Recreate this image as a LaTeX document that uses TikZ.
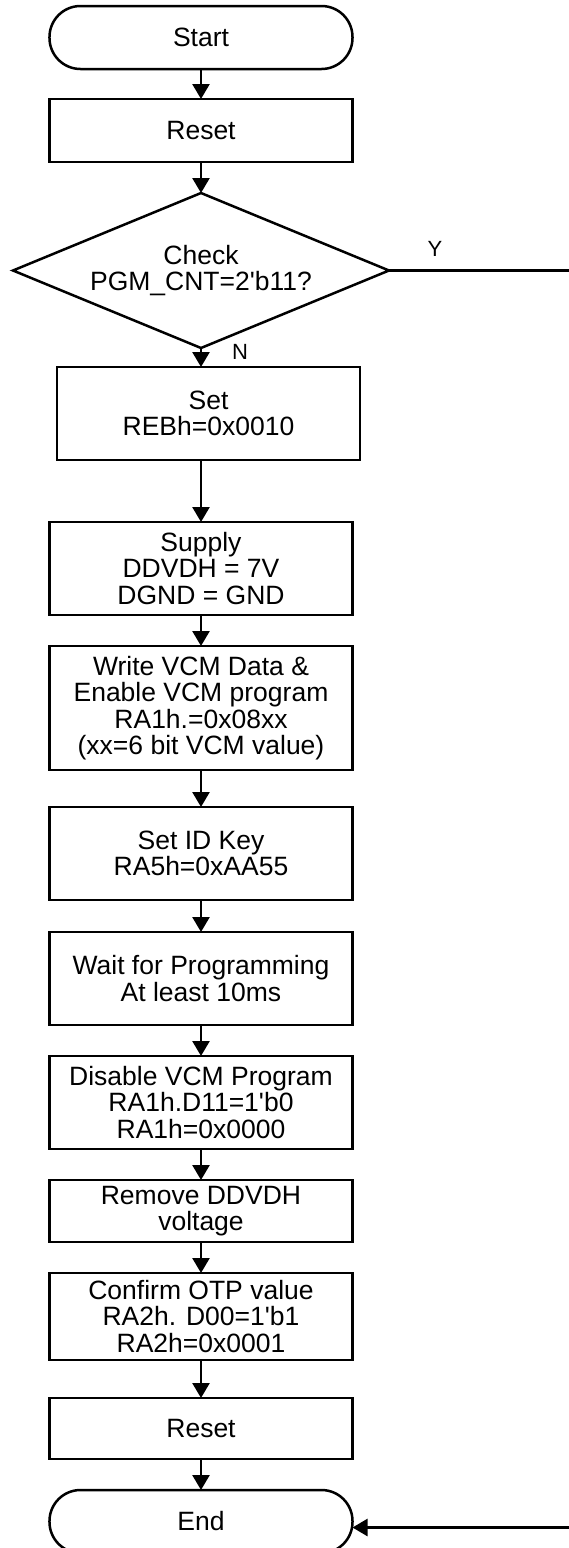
\documentclass[tikz,border=0pt]{standalone}
\usepackage{fontspec}
\setmainfont{Liberation Sans}
\usetikzlibrary{arrows.meta, positioning, shapes.geometric}

\begin{document}
\begin{tikzpicture}[
  box/.style = {draw, line width=2.5pt, outer sep=0pt, minimum width=303pt, minimum height=93pt, align=center, inner sep=0pt, font=\fontsize{26.5pt}{26.3pt}\selectfont},
  term/.style = {box, minimum height=63pt, rounded corners=31pt},
  decision/.style = {draw, diamond, line width=2.5pt, outer sep=0pt, minimum width=376pt, minimum height=155pt, aspect=2.43, inner sep=0pt, align=center, font=\fontsize{26.5pt}{25.5pt}\selectfont},
  arrow/.style = {-{Triangle[length=15pt, width=17pt]}, line width=2.5pt},
  lbl/.style = {inner sep=0pt, font=\fontsize{22pt}{22pt}\selectfont},
  node distance=31pt
]
\useasboundingbox (-201pt,37.5pt) rectangle (368pt,-1510.5pt);

% Nodes of the flow
\node[term] (start) {Start};
\node[box, minimum height=63pt, below=30pt of start] (reset1) {Reset};
\node[decision, below=of reset1] (check) {Check\\PGM\_CNT=2\textquotesingle b11?};
\node[box, below=19pt of check, xshift=7.5pt] (setreg) {Set\\REBh=0x0010};
\node[box, below=62pt of setreg, xshift=-7.5pt] (supply) {Supply\\DDVDH = 7V\\DGND = GND};
\node[box, minimum height=124pt, below=of supply] (write) {Write VCM Data \&\\Enable VCM program\\RA1h.=0x08xx\\(xx=6 bit VCM value)};
\node[box, below=37pt of write] (idkey) {Set ID Key\\RA5h=0xAA55};
\node[box, below=32pt of idkey] (wait) {Wait for Programming\\At least 10ms};
\node[box, below=of wait] (disable) {Disable VCM Program\\RA1h.D11=1\textquotesingle b0\\RA1h=0x0000};
\node[box, minimum height=62pt, below=of disable] (remove) {Remove DDVDH\\voltage};
\node[box, minimum height=87pt, below=of remove] (confirm) {Confirm OTP value\\RA2h. D00=1\textquotesingle b1\\RA2h=0x0001};
\node[box, minimum height=61pt, below=38pt of confirm] (reset2) {Reset};
\node[term, below=of reset2] (finish) {End};

% Arrows
\draw[arrow] (start) -- (reset1);
\draw[arrow] (reset1) -- (check);
\draw[arrow] (check.south) -- (check.south |- setreg.north);
\draw[arrow] (setreg.south -| supply.north) -- (supply.north);
\draw[arrow] (supply) -- (write);
\draw[arrow] (write) -- (idkey);
\draw[arrow] (idkey) -- (wait);
\draw[arrow] (wait) -- (disable);
\draw[arrow] (disable) -- (remove);
\draw[arrow] (remove) -- (confirm);
\draw[arrow] (confirm) -- (reset2);
\draw[arrow] (reset2) -- (finish);

% Y branch, leaving and coming back at the right edge
\coordinate[right=183pt of check.east] (yout);
\draw[line width=2.5pt] (check.east) -- (yout);
\coordinate (ret) at ([xshift=219pt, yshift=-6pt]finish.east);
\draw[arrow] (ret) -- (ret -| finish.east);

% Labels
\node[lbl, right=31pt of check.south, yshift=-4pt] (nlbl) {N};
\node[lbl] (ylbl) at ([shift={(46pt,22pt)}]check.east) {Y};
\end{tikzpicture}
\end{document}
